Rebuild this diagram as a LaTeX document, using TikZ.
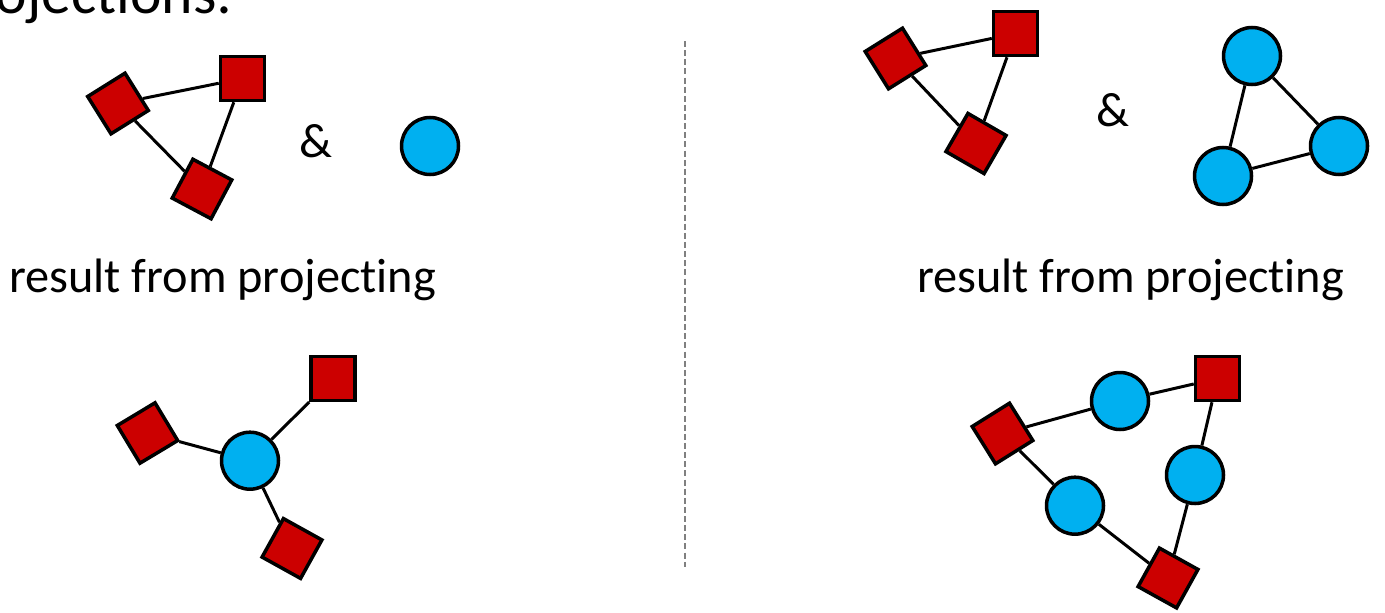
\documentclass[tikz,border=0pt]{standalone}
\usepackage{fontspec}
\setmainfont{Carlito}[Ligatures={NoCommon,NoContextual}]
\usepackage{tikz}
\usetikzlibrary{calc}

\definecolor{sqred}{RGB}{204,0,0}
\definecolor{dotblue}{RGB}{0,176,240}

\begin{document}
\begin{tikzpicture}[x=0.02cm,y=-0.02cm,
		sq/.style={draw,fill=sqred,line width=2pt,minimum size=0.88cm,inner sep=0pt},
		dot/.style={draw,circle,fill=dotblue,line width=2pt,minimum size=1.14cm,inner sep=0pt},
		edge/.style={line width=1.7pt},
		txt/.style={inner sep=0pt,font=\fontsize{27.5}{33}\selectfont}]
				\useasboundingbox (0,0) rectangle (1385,612);
				%heading runs off the page on the left
				\node[inner sep=0pt,anchor=base east,font=\fontsize{34}{40}\selectfont] (head) at (233,13){projections:};

				%%left half, top row
				\node[sq,rotate=32] (a1) at (118,103.5){};
				\node[sq] (a2) at (242.5,78.5){};
				\node[sq,rotate=-28] (a3) at (202,189){};
				\node[txt] (aamp) at (316,141){\&};
				\node[dot] (ac) at (430,146){};
				\draw[edge] (a1)--(a2);
				\draw[edge] (a2)--(a3);
				\draw[edge] (a1)--(a3);

				%%right half, top row
				\node[sq,rotate=32] (b1) at (895.5,58.5){};
				\node[sq] (b2) at (1015.5,33.5){};
				\node[sq,rotate=-30] (b3) at (976,143.5){};
				\node[txt] (bamp) at (1113,110){\&};
				\node[dot] (bc1) at (1252,56){};
				\node[dot] (bc2) at (1339,146){};
				\node[dot] (bc3) at (1223,176){};
				\draw[edge] (b1)--(b2);
				\draw[edge] (b2)--(b3);
				\draw[edge] (b1)--(b3);
				\draw[edge] (bc1)--(bc2);
				\draw[edge] (bc2)--(bc3);
				\draw[edge] (bc1)--(bc3);

				\node[txt,anchor=base] (ares) at (222.5,292){result from projecting};
				\node[txt,anchor=base] (bres) at (1130.5,292){result from projecting};

				%%left half, bottom row: star round one circle
				\node[sq] (c1) at (333,378.5){};
				\node[sq,rotate=31] (c2) at (147.5,433){};
				\node[dot] (cc) at (250,460.7){};
				\node[sq,rotate=-29] (c3) at (292,548.5){};
				\foreach \s in {c1,c2,c3}{
					\draw[edge] (cc)--(\s);
					}

				%%right half, bottom row: ring of six
				\node[sq] (d1) at (1217.5,378.5){};
				\node[sq,rotate=32] (d2) at (1002.5,433.5){};
				\node[sq,rotate=-29] (d3) at (1168,578){};
				\node[dot] (dc1) at (1120,401){};
				\node[dot] (dc2) at (1195,475){};
				\node[dot] (dc3) at (1075,505.7){};
				\draw[edge] (d2)--(dc1)--(d1);
				\draw[edge] (d1)--(dc2)--(d3);
				\draw[edge] (d3)--(dc3)--(d2);

				%divider
				\coordinate (top) at (685,41);
				\coordinate (bot) at (685,567);
				\draw[color=gray,line width=0.9pt,dash pattern=on 3.4pt off 1.8pt] (top)--(bot);
				\end{tikzpicture}
\end{document}
